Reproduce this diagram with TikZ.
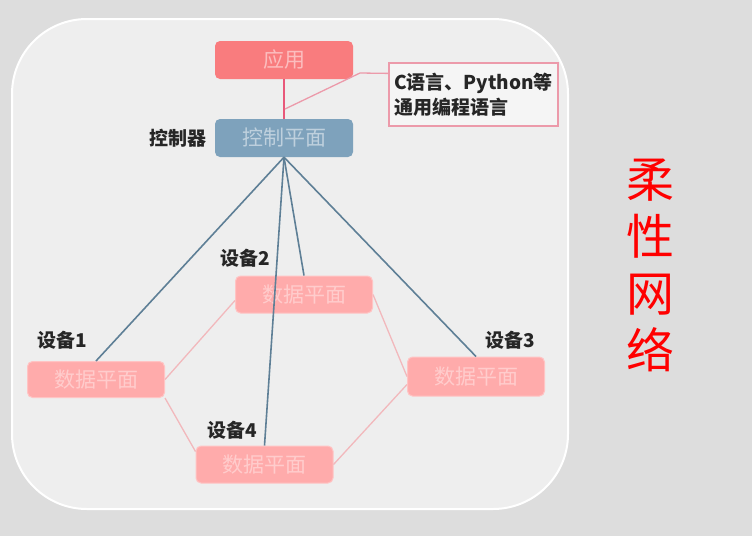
\documentclass[tikz,border=0pt]{standalone}
\usepackage{fontspec}
\newfontfamily\cjk{Noto Sans CJK SC}
\definecolor{outerbg}{HTML}{DDDDDD}
\definecolor{innerbg}{HTML}{EEEEEE}
\definecolor{appred}{HTML}{F97C7E}
\definecolor{ctrlblue}{HTML}{7EA2BC}
\definecolor{devpink}{HTML}{FFABAB}
\definecolor{bluelink}{HTML}{5E7F96}
\definecolor{pinklink}{HTML}{F2B8BC}
\definecolor{redlink}{HTML}{E8587A}
\definecolor{calloutedge}{HTML}{EC9AAA}
\begin{document}
\begin{tikzpicture}[x=1pt,y=-1pt,
  box/.style={rounded corners=5pt, inner sep=0pt, font=\cjk\fontsize{21}{21}\selectfont, text=white, text opacity=0.5},
  appbox/.style={box, fill=appred, minimum width=138pt, minimum height=38pt},
  ctrlbox/.style={box, fill=ctrlblue, minimum width=138pt, minimum height=38pt},
  devbox/.style={box, fill=devpink, draw=devpink!70!white, line width=1pt, minimum width=137pt, minimum height=37pt, text opacity=0.4},
  lbl/.style={font=\cjk\bfseries\fontsize{19}{19}\selectfont, text=black!85, inner sep=0pt},
  blue line/.style={draw=bluelink, line width=1.6pt},
  pink line/.style={draw=pinklink, line width=1.3pt},
  red line/.style={draw=redlink, line width=1.6pt},
  callout/.style={draw=calloutedge, line width=1.2pt, fill=innerbg!60!white, minimum width=169pt, minimum height=63pt, inner sep=0pt, align=left, font=\cjk\bfseries\fontsize{19}{25}\selectfont, text=black!85},
  title/.style={font=\cjk\fontsize{48}{57}\selectfont, text=red, align=center, inner sep=0pt}
]
\fill[outerbg] (0,0) rectangle (752,536);
\useasboundingbox (0,0) rectangle (752,536);
\draw[white, line width=2pt, fill=innerbg, rounded corners=75pt] (12,19) rectangle (568,509);

\node[appbox] (app) at (284,60) {应用};
\node[ctrlbox] (ctrl) at (284,138) {控制平面};
\node[callout] (note) at (473.5,94.5) {C语言、Python等\\通用编程语言};

\node[devbox, minimum height=36pt] (dev1) at (96,379.5) {数据平面};
\node[devbox] (dev2) at (304,294.5) {数据平面};
\node[devbox, minimum height=39pt] (dev3) at (476,376.5) {数据平面};
\node[devbox] (dev4) at (264.5,464.5) {数据平面};

\node[lbl] (lctrl) at (178,138) {控制器};
\node[lbl] (l2) at (245,258) {设备2};
\node[lbl] (l1) at (62,340) {设备1};
\node[lbl] (l3) at (510,340) {设备3};
\node[lbl] (l4) at (232,430) {设备4};

\node[title] (ttl) at (650,265) {柔\\性\\网\\络};

% red link and callout pointer
\path[red line] (app.south) -- (ctrl.north);
\coordinate (bend) at (360,73);
\coordinate (tip) at (285,109);
\path[pink line, draw=calloutedge] ([yshift=-11pt]note.north west) -- (bend) -- (tip);

% control links
\path[blue line] (ctrl.south) -- (dev1.north);
\path[blue line] (ctrl.south) -- (dev2.north);
\path[blue line] (ctrl.south) -- (dev3.north);
\path[blue line] (ctrl.south) -- (dev4.north);

% data links
\path[pink line] (dev1.east) -- ([yshift=-6pt]dev2.west);
\path[pink line] (dev1.south east) -- ([yshift=-6pt]dev4.north west);
\path[pink line] (dev2.east) -- (dev3.west);
\path[pink line] (dev4.east) -- ([yshift=-8pt]dev3.west);
\end{tikzpicture}
\end{document}
